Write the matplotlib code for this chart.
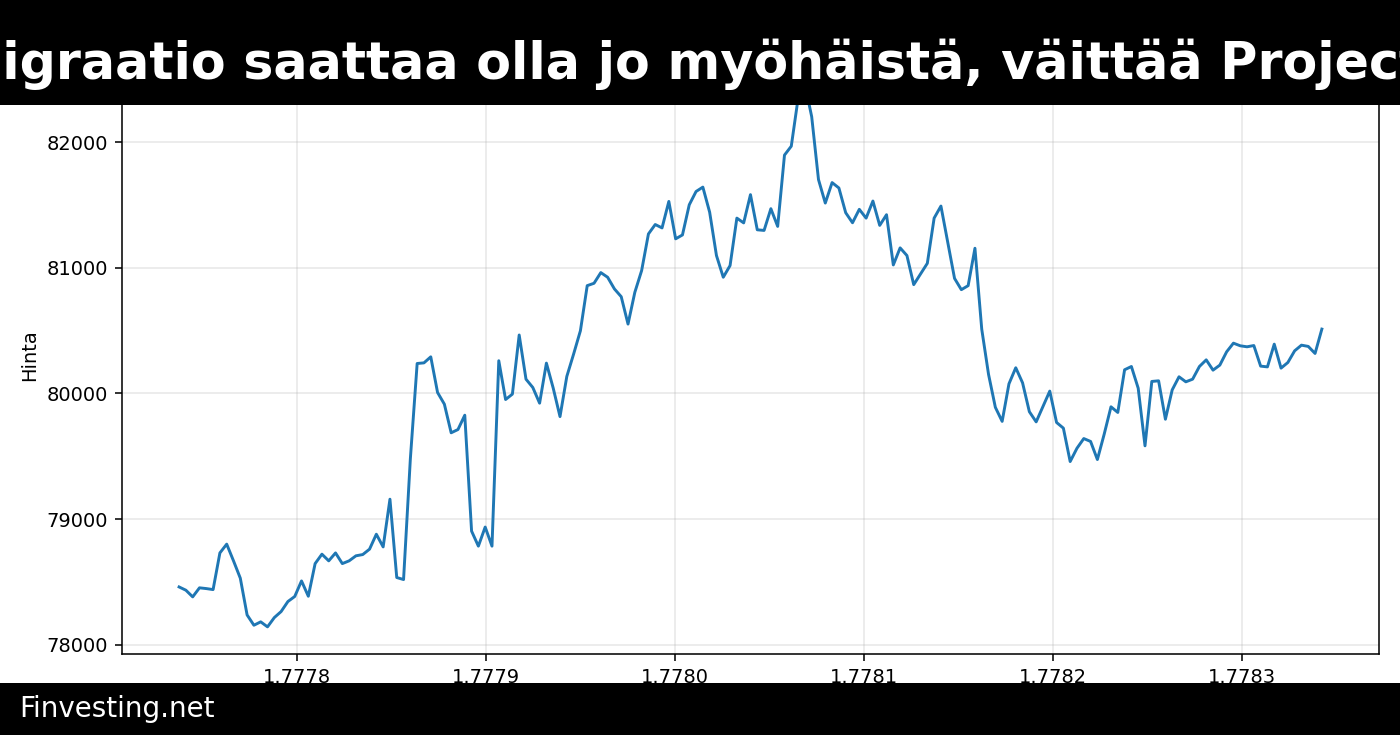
import numpy as np
import matplotlib
matplotlib.use("Agg")
import matplotlib.pyplot as plt
from matplotlib.patches import Rectangle

# hourly prices for one week, unix timestamps on the x axis
start_ts = 1777737600
step_s = 3600

prices = [
    78459, 78433, 78380, 78452, 78446, 78438, 78730, 78800, 78667, 78529,
    78236, 78154, 78181, 78141, 78215, 78263, 78343, 78383, 78507, 78385,
    78645, 78720, 78667, 78730, 78645, 78667, 78707, 78717, 78760, 78879,
    78778, 79158, 78534, 78518, 79480, 80239, 80244, 80292, 80008, 79915,
    79687, 79713, 79827, 78904, 78784, 78936, 78784, 80261, 79952, 79995,
    80466, 80114, 80048, 79923, 80242, 80043, 79816, 80136, 80314, 80500,
    80859, 80878, 80963, 80926, 80833, 80771, 80553, 80806, 80979, 81271,
    81346, 81319, 81530, 81232, 81263, 81503, 81609, 81644, 81444, 81099,
    80926, 81019, 81397, 81359, 81584, 81304, 81299, 81472, 81331, 81899,
    81970, 82350, 82464, 82205, 81704, 81517, 81680, 81637, 81440, 81360,
    81467, 81397, 81533, 81339, 81424, 81024, 81160, 81099, 80867, 80952,
    81037, 81397, 81493, 81205, 80917, 80827, 80859, 81157, 80512, 80152,
    79890, 79778, 80077, 80205, 80085, 79855, 79774, 79896, 80019, 79769,
    79724, 79458, 79564, 79641, 79618, 79474, 79676, 79894, 79849, 80189,
    80215, 80042, 79583, 80096, 80101, 79795, 80029, 80133, 80093, 80114,
    80215, 80268, 80186, 80226, 80332, 80401, 80380, 80372, 80382, 80218,
    80212, 80393, 80202, 80247, 80340, 80385, 80375, 80319, 80513,
]

timestamps = start_ts + step_s * np.arange(len(prices))

title = "Kvanttimigraatio saattaa olla jo myöhäistä, väittää Project Eleven"
footer = "Finvesting.net"

W, H = 1400, 735
fig = plt.figure(figsize=(10, 5.25), dpi=140)
ax = fig.add_axes([0.0871, 0.1102, 0.8979, 0.8122])

ax.plot(timestamps, prices, color="#1f77b4", lw=1.5)
ax.set_ylabel("Hinta")
ax.grid(True, alpha=0.3)
ax.margins(x=0.05, y=0.05)

# black banner on top and footer strip at the bottom
fig.patches.append(Rectangle((0, 1 - 105 / H), 1, 105 / H, transform=fig.transFigure,
                             facecolor="black", edgecolor="none", zorder=10))
fig.patches.append(Rectangle((0, 0), 1, 52.5 / H, transform=fig.transFigure,
                             facecolor="black", edgecolor="none", zorder=10))

# title is wider than the figure and cut at both sides, as in the original
fig.text(0.4899, 1 - 79.3 / H, title, color="white", fontsize=26.1, fontweight="bold",
         ha="center", va="baseline", zorder=11)
fig.text(0.0139, 1 - 717.3 / H, footer, color="white", fontsize=14.3,
         ha="left", va="baseline", zorder=11)

fig.savefig("out.png", dpi=140)
